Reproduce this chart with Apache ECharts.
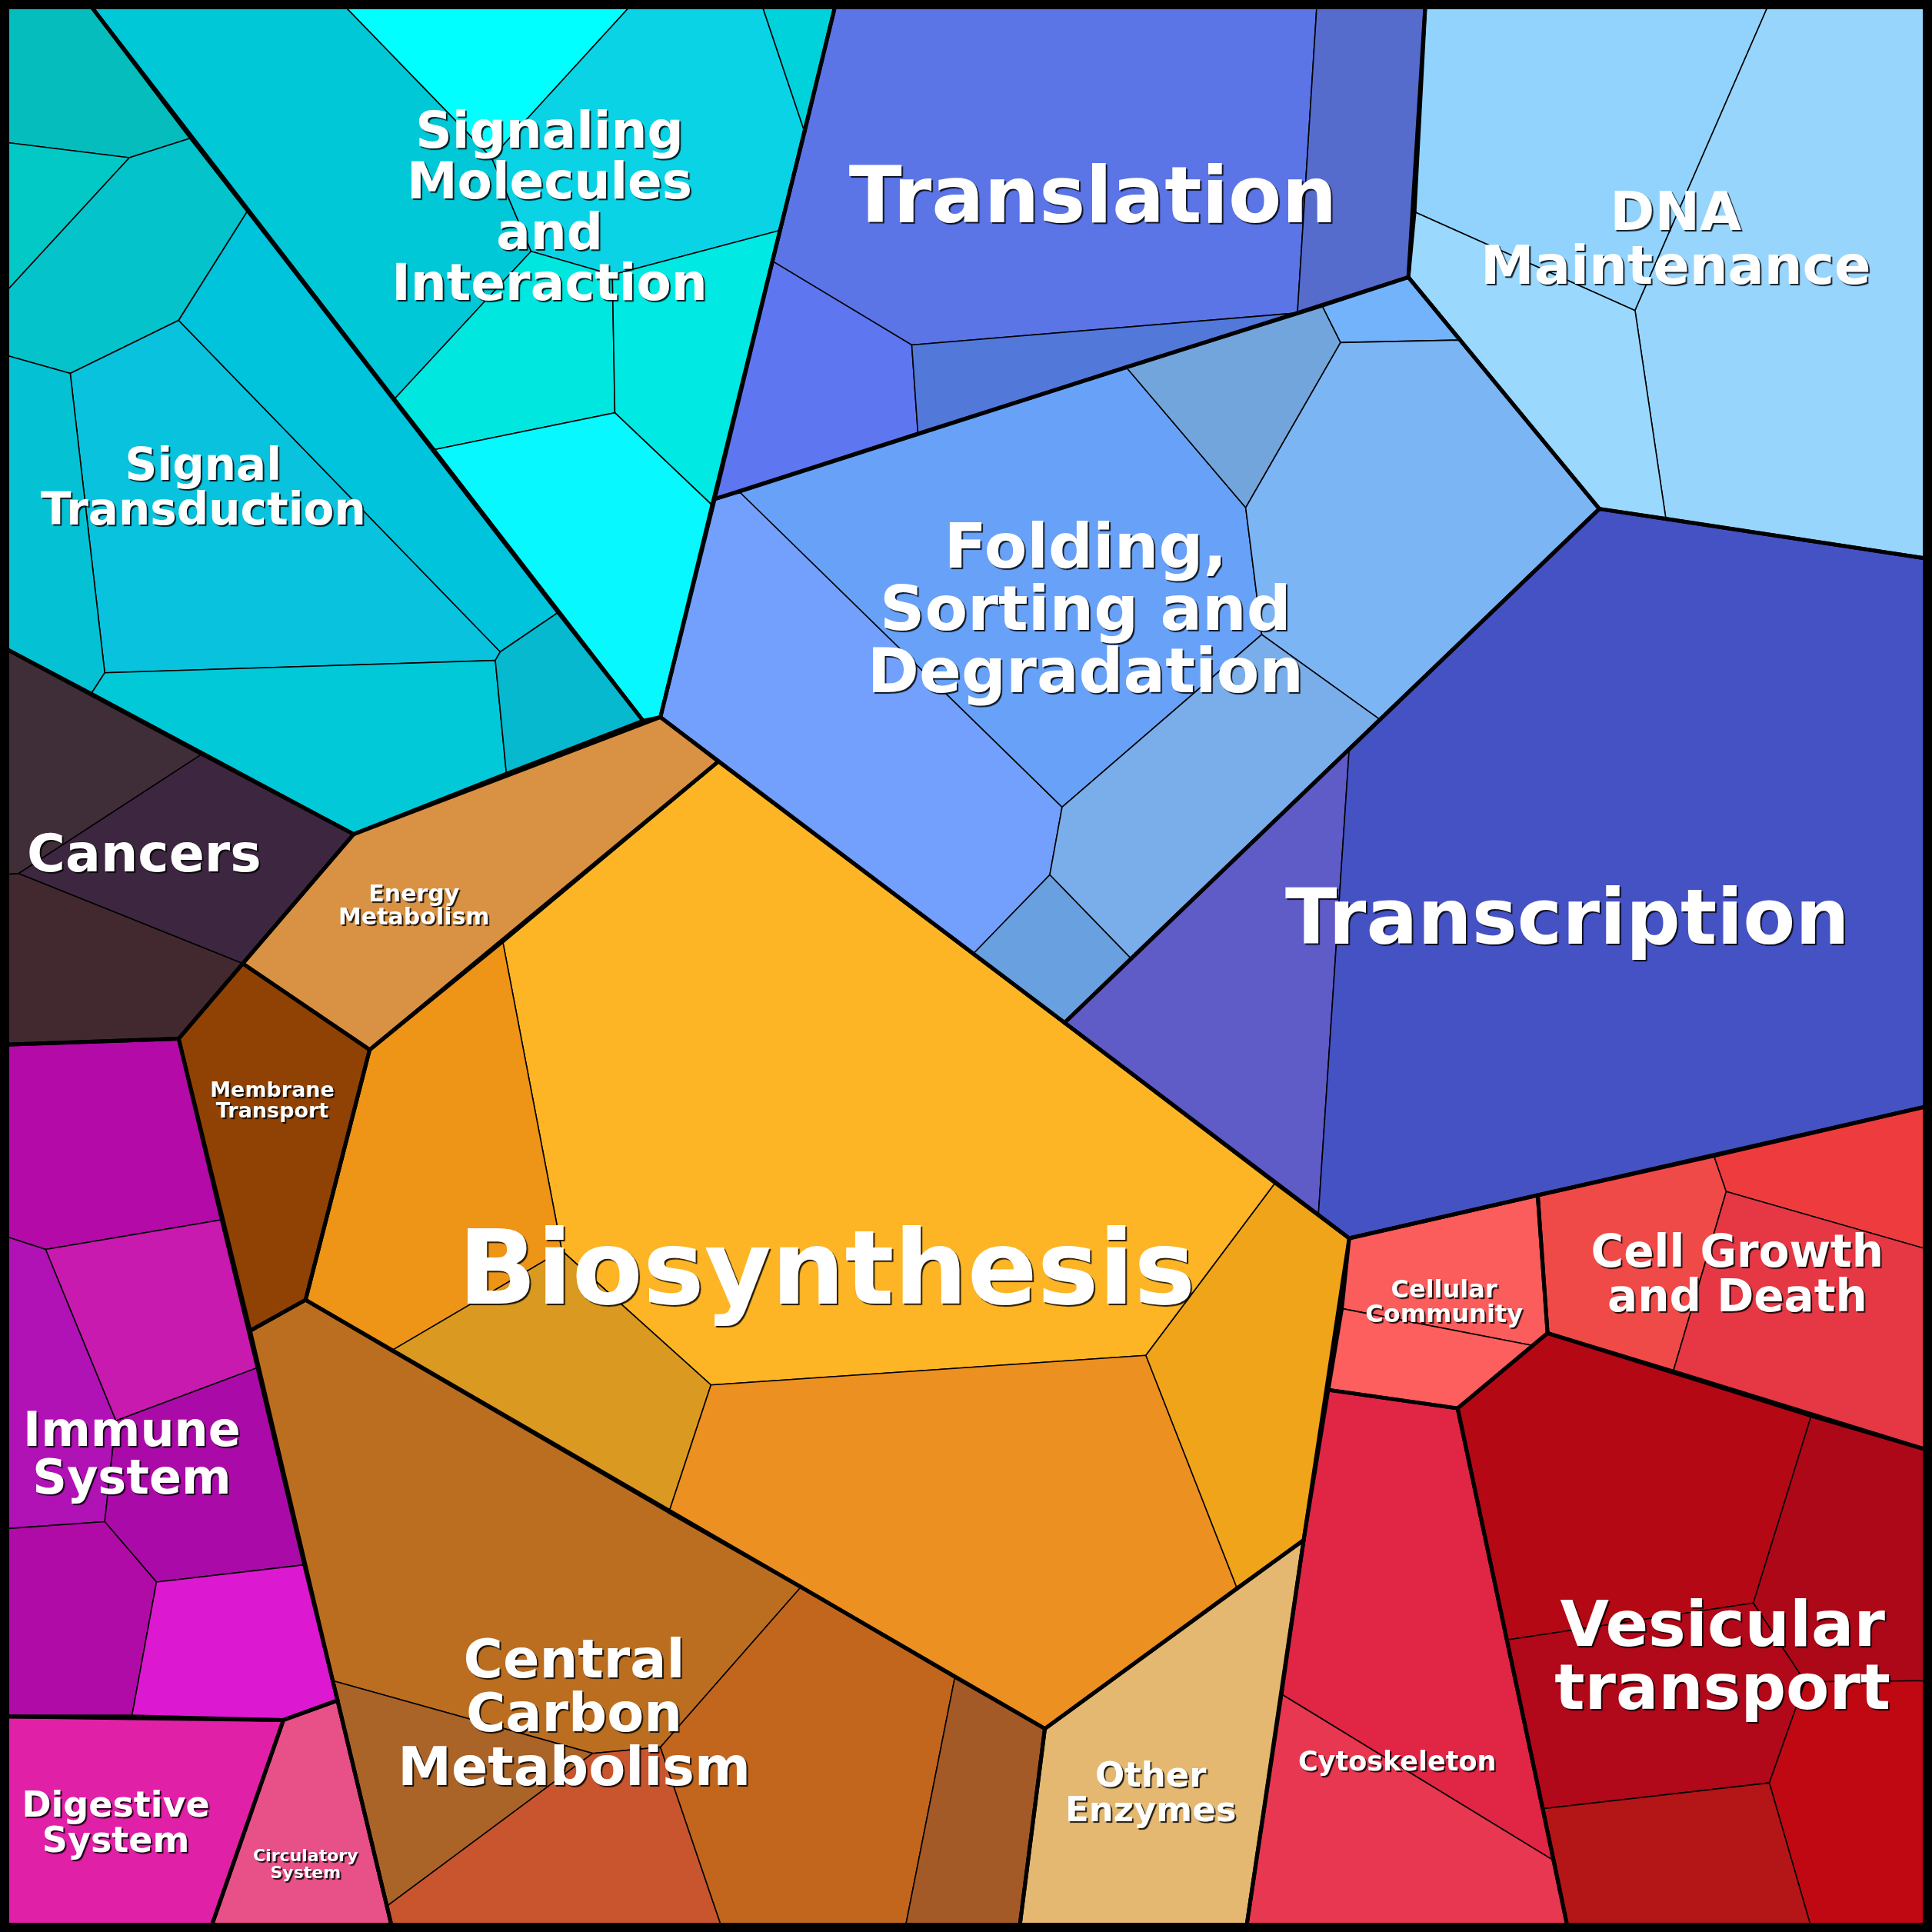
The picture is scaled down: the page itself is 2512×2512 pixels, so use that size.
<!DOCTYPE html>
<html>
<head>
<meta charset="utf-8">
<title>Voronoi treemap</title>
<script src="https://cdn.jsdelivr.net/npm/echarts@6/dist/echarts.min.js"></script>
<style>
  html, body { margin: 0; padding: 0; background: #000; }
  #chart { width: 2512px; height: 2512px; }
</style>
</head>
<body>
<div id="chart"></div>
<script>
// cell outlines, in plot units (0..1568, y downward)
const signalTransduction = [
  [[0,0],[70,0],[155,112],[105,128],[0,115]],
  [[0,115],[105,128],[0,242]],
  [[105,128],[155,112],[201,171],[145,260],[57,303],[0,287],[0,242]],
  [[57,303],[145,260],[406,529],[402,536],[85,546]],
  [[145,260],[201,171],[453,497],[406,529]],
  [[0,287],[57,303],[85,546],[74,563],[0,524]],
  [[85,546],[402,536],[411,628],[287,677],[74,563]],
  [[402,536],[406,529],[453,497],[522,585],[411,628]]
];
const signalingMolecules = [
  [[70,0],[275,0],[399,128],[431,204],[320,324]],
  [[275,0],[516,0],[399,128]],
  [[516,0],[617,0],[653,107],[633,187],[497,223],[431,204],[399,128]],
  [[617,0],[679,0],[653,107]],
  [[320,324],[431,204],[497,223],[499,335],[352,365]],
  [[497,223],[633,187],[578,410],[499,335]],
  [[352,365],[499,335],[578,410],[536,582],[522,585]]
];
const translation = [
  [[679,0],[1069,0],[1053,254],[740,280],[627,212]],
  [[1069,0],[1157,0],[1143,225],[1053,254]],
  [[627,212],[740,280],[745,352],[580,405]],
  [[740,280],[1053,254],[745,352]]
];
const dnaMaintenance = [
  [[1157,0],[1437,0],[1327,252],[1148,172]],
  [[1437,0],[1568,0],[1568,454],[1352,421],[1327,252]],
  [[1148,172],[1327,252],[1352,421],[1298,413],[1143,225]]
];
const folding = [
  [[580,405],[600,399],[862,655],[852,710],[790,774],[536,582]],
  [[600,399],[914,298],[1011,412],[1024,515],[862,655]],
  [[914,298],[1073,248],[1088,278],[1011,412]],
  [[1073,248],[1143,225],[1185,276],[1088,278]],
  [[1088,278],[1185,276],[1298,413],[1120,584],[1024,515],[1011,412]],
  [[862,655],[1024,515],[1120,584],[918,778],[852,710]],
  [[790,774],[852,710],[918,778],[864,830]]
];
const transcription = [
  [[864,830],[1095,608],[1070,986]],
  [[1095,608],[1298,413],[1568,454],[1568,897],[1095,1005],[1070,986]]
];
const cancers = [
  [[0,524],[164,612],[15,709],[0,710]],
  [[164,612],[287,677],[197,782],[15,709]],
  [[0,710],[15,709],[197,782],[145,843],[0,848]]
];
const energyMetabolism = [
  [[287,677],[536,582],[583,618],[300,852],[197,782]]
];
const membraneTransport = [
  [[197,782],[300,852],[248,1055],[203,1080],[145,843]]
];
const immuneSystem = [
  [[0,848],[145,843],[180,990],[37,1014],[0,1002]],
  [[37,1014],[180,990],[209,1110],[94,1153]],
  [[0,1002],[37,1014],[94,1153],[85,1235],[0,1241]],
  [[94,1153],[209,1110],[247,1270],[127,1284],[85,1235]],
  [[0,1241],[85,1235],[127,1284],[107,1393],[0,1393]],
  [[127,1284],[247,1270],[274,1380],[230,1396],[107,1393]]
];
const digestiveSystem = [
  [[0,1393],[230,1396],[170,1568],[0,1568]]
];
const circulatorySystem = [
  [[230,1396],[274,1380],[319,1568],[170,1568]]
];
const centralCarbon = [
  [[203,1080],[248,1055],[650,1288],[536,1418],[481,1423],[270,1364]],
  [[270,1364],[481,1423],[314,1547]],
  [[314,1547],[481,1423],[536,1418],[587,1568],[319,1568]],
  [[650,1288],[775,1361],[734,1568],[587,1568],[536,1418]],
  [[775,1361],[848,1403],[827,1568],[734,1568]]
];
const biosynthesis = [
  [[408,764],[583,618],[864,830],[1035,960],[930,1100],[577,1124],[456,1015]],
  [[300,852],[408,764],[456,1015],[318,1096],[248,1055]],
  [[318,1096],[456,1015],[577,1124],[543,1227]],
  [[577,1124],[930,1100],[1004,1289],[848,1403],[650,1288],[543,1227]],
  [[1035,960],[1095,1005],[1058,1250],[1004,1289],[930,1100]]
];
const otherEnzymes = [
  [[848,1403],[1058,1250],[1011,1568],[827,1568]]
];
const cellularCommunity = [
  [[1095,1005],[1248,970],[1256,1082],[1244,1092],[1089,1062]],
  [[1089,1062],[1244,1092],[1183,1143],[1078,1128]]
];
const cellGrowth = [
  [[1248,970],[1391,938],[1401,967],[1358,1113],[1256,1082]],
  [[1391,938],[1568,897],[1568,1015],[1401,967]],
  [[1401,967],[1568,1015],[1568,1178],[1358,1113]]
];
const vesicularTransport = [
  [[1183,1143],[1256,1082],[1470,1149],[1423,1301],[1223,1331]],
  [[1470,1149],[1568,1178],[1568,1364],[1465,1365],[1423,1301]],
  [[1223,1331],[1423,1301],[1465,1365],[1436,1447],[1252,1468]],
  [[1465,1365],[1568,1364],[1568,1568],[1471,1568],[1436,1447]],
  [[1252,1468],[1436,1447],[1471,1568],[1273,1568]]
];
const cytoskeleton = [
  [[1078,1128],[1183,1143],[1261,1510],[1040,1375],[1058,1250]],
  [[1040,1375],[1261,1510],[1273,1568],[1011,1568]]
];

// fill colours, one per cell above
const signalTransductionColors = ['#06bdbe','#02c9c6','#05c3cb','#09c3de','#00c3dc','#04c2d4','#02c9d8','#06b9cf'];
const signalingMoleculesColors = ['#00c8d7','#00ffff','#0ad3e6','#00d2db','#00e7e0','#00e9e2','#07f8ff'];
const translationColors = ['#5b75e6','#556ccd','#5e77f0','#5278da'];
const dnaMaintenanceColors = ['#91d3fc','#97d5fd','#9bd8fd'];
const foldingColors = ['#72a0fc','#68a2f8','#72a5db','#73b3fb','#7cb5f4','#7aaeea','#68a0e0'];
const transcriptionColors = ['#5f5bc7','#4552c4'];
const cancersColors = ['#3f2d37','#3c2640','#422930'];
const energyMetabolismColors = ['#d99244'];
const membraneTransportColors = ['#8f4204'];
const immuneSystemColors = ['#b30aa8','#c81aaf','#b012b5','#aa0ba8','#b00ba6','#dc18d0'];
const digestiveSystemColors = ['#e020a6'];
const circulatorySystemColors = ['#e85088'];
const centralCarbonColors = ['#bc6e20','#ab6428','#c8552e','#c2661e','#a45a26'];
const biosynthesisColors = ['#fdb526','#ee9417','#da9920','#eb9021','#f0a419'];
const otherEnzymesColors = ['#e4b870'];
const cellularCommunityColors = ['#fb5d5c','#fd5e5e'];
const cellGrowthColors = ['#f04a48','#ee3c3e','#e63844'];
const vesicularTransportColors = ['#b40814','#ad0818','#b1081a','#c00812','#b41516'];
const cytoskeletonColors = ['#e02545','#e83750'];

// category names as printed
const labelTexts = [
  'Signaling\nMolecules\nand\nInteraction', 'Signal\nTransduction', 'Translation',
  'DNA\nMaintenance', 'Folding,\nSorting and\nDegradation', 'Transcription',
  'Biosynthesis', 'Cancers', 'Energy\nMetabolism', 'Membrane\nTransport',
  'Immune\nSystem', 'Digestive\nSystem', 'Circulatory\nSystem',
  'Central\nCarbon\nMetabolism', 'Other\nEnzymes', 'Cytoskeleton',
  'Cellular\nCommunity', 'Cell Growth\nand Death', 'Vesicular\ntransport'
];

// ---- layout / styling ----
const labelAnchors = [
  [446,171],[165,398],[887,164],[1360,197],[881,498],[1272,750],
  [671,1036],[117,696],[336,736],[221,894],[107,1183],[94,1481],[248,1514],
  [466,1394],[934,1457],[1134,1431],[1172,1058],[1410,1037],[1398,1348]
];
const labelSizes = [66,58,101,70,81,99,134,68,30,27,62,46,22,70,45,35,32,58,82];

const groups = [
  [signalTransduction, signalTransductionColors],
  [signalingMolecules, signalingMoleculesColors],
  [translation, translationColors],
  [dnaMaintenance, dnaMaintenanceColors],
  [folding, foldingColors],
  [transcription, transcriptionColors],
  [cancers, cancersColors],
  [energyMetabolism, energyMetabolismColors],
  [membraneTransport, membraneTransportColors],
  [immuneSystem, immuneSystemColors],
  [digestiveSystem, digestiveSystemColors],
  [circulatorySystem, circulatorySystemColors],
  [centralCarbon, centralCarbonColors],
  [biosynthesis, biosynthesisColors],
  [otherEnzymes, otherEnzymesColors],
  [cellularCommunity, cellularCommunityColors],
  [cellGrowth, cellGrowthColors],
  [vesicularTransport, vesicularTransportColors],
  [cytoskeleton, cytoskeletonColors]
];

const cells = [];
const borders = [];
groups.forEach(([polys, colors]) => {
  const seen = {};
  const edges = [];
  polys.forEach((pts, i) => {
    cells.push({ pts, color: colors[i] });
    pts.forEach((p, j) => {
      const q = pts[(j + 1) % pts.length];
      const key = [p.join(','), q.join(',')].sort().join('|');
      seen[key] = (seen[key] || 0) + 1;
      edges.push([key, p, q]);
    });
  });
  // edges used once inside a category are its outer border
  edges.forEach(([key, p, q]) => {
    if (seen[key] === 1) borders.push([p, q]);
  });
});

const centroid = pts => [
  pts.reduce((s, p) => s + p[0], 0) / pts.length,
  pts.reduce((s, p) => s + p[1], 0) / pts.length
];

const chart = echarts.init(document.getElementById('chart'), null, { renderer: 'canvas' });

chart.setOption({
  animation: false,
  backgroundColor: '#000',
  grid: { left: 0, right: 0, top: 0, bottom: 0 },
  xAxis: { type: 'value', min: 0, max: 1568, show: false },
  yAxis: { type: 'value', min: 0, max: 1568, inverse: true, show: false },
  series: [
    {
      type: 'custom',
      coordinateSystem: 'cartesian2d',
      data: cells.map(c => centroid(c.pts)),
      encode: { x: 0, y: 1 },
      renderItem: (params, api) => {
        const c = cells[params.dataIndex];
        return {
          type: 'polygon',
          shape: { points: c.pts.map(p => api.coord(p)) },
          style: { fill: c.color, stroke: '#000', lineWidth: 1.6 }
        };
      },
      z: 1
    },
    {
      type: 'custom',
      coordinateSystem: 'cartesian2d',
      data: borders.map(b => [(b[0][0] + b[1][0]) / 2, (b[0][1] + b[1][1]) / 2]),
      encode: { x: 0, y: 1 },
      renderItem: (params, api) => {
        const b = borders[params.dataIndex];
        const a = api.coord(b[0]);
        const c = api.coord(b[1]);
        return {
          type: 'line',
          shape: { x1: a[0], y1: a[1], x2: c[0], y2: c[1] },
          style: { stroke: '#000', lineWidth: 5, lineCap: 'round' }
        };
      },
      z: 2
    },
    {
      type: 'custom',
      coordinateSystem: 'cartesian2d',
      data: labelAnchors,
      encode: { x: 0, y: 1 },
      renderItem: (params, api) => {
        const i = params.dataIndex;
        const pt = api.coord(labelAnchors[i]);
        const size = labelSizes[i];
        return {
          type: 'text',
          x: pt[0],
          y: pt[1],
          style: {
            text: labelTexts[i],
            fill: '#fff',
            fontFamily: 'DejaVu Sans',
            fontWeight: 'bold',
            fontSize: size,
            lineHeight: size,
            align: 'center',
            verticalAlign: 'middle',
            textAlign: 'center',
            textVerticalAlign: 'middle',
            textShadowColor: 'rgba(0,0,0,0.85)',
            textShadowBlur: 1,
            textShadowOffsetX: 2,
            textShadowOffsetY: 2
          }
        };
      },
      z: 4
    }
  ],
  graphic: [{
    type: 'rect',
    z: 100,
    shape: { x: 0, y: 0, width: 2512, height: 2512 },
    style: { fill: 'none', stroke: '#000', lineWidth: 24 }
  }]
});
</script>
</body>
</html>
